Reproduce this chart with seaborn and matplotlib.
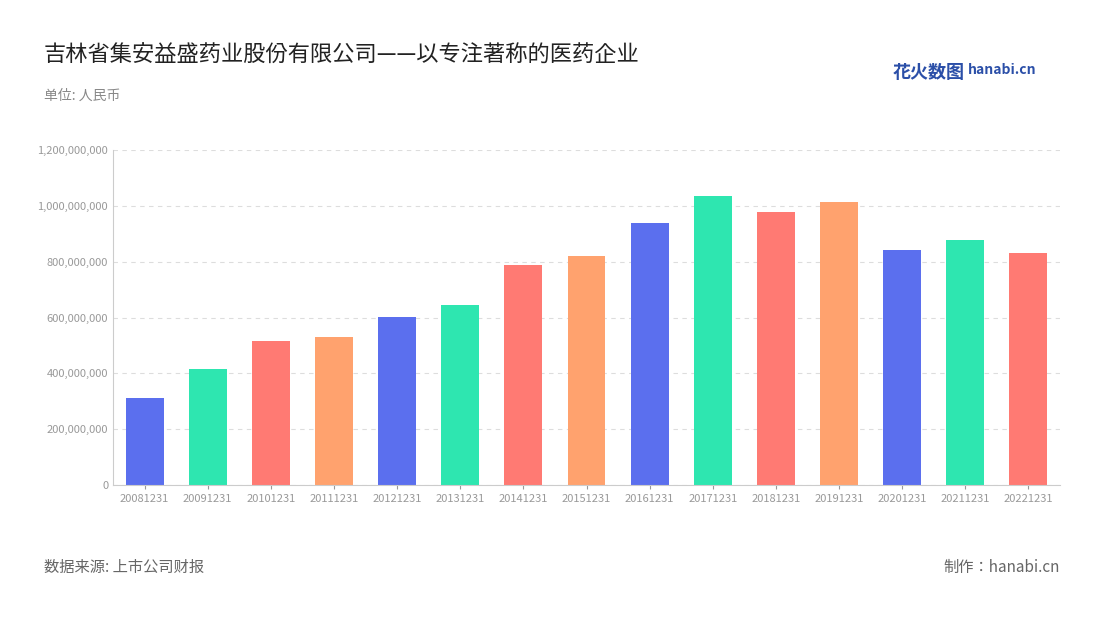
import matplotlib
matplotlib.use("Agg")
import matplotlib.pyplot as plt
import seaborn as sns
import pandas as pd
from matplotlib.ticker import FuncFormatter
from matplotlib import font_manager

years = ["20081231","20091231","20101231","20111231","20121231","20131231","20141231","20151231",
         "20161231","20171231","20181231","20191231","20201231","20211231","20221231"]
values = [311e6,415e6,516e6,530e6,602e6,645e6,788e6,820e6,938e6,1035e6,978e6,1014e6,842e6,877e6,831e6]
palette_cycle = ["#5B6FEE","#2EE6B0","#FF7A73","#FFA26E"]

names = {f.name for f in font_manager.fontManager.ttflist}
cjk = [n for n in ["Noto Sans CJK SC","Noto Sans CJK JP","Noto Sans CJK TC","Noto Sans CJK KR","Noto Sans SC"] if n in names]
plt.rcParams["font.family"] = "sans-serif"
plt.rcParams["font.sans-serif"] = cjk + ["DejaVu Sans"]

df = pd.DataFrame({"year": years, "value": values})
colors = [palette_cycle[i % 4] for i in range(len(years))]

fig = plt.figure(figsize=(11, 6.2), dpi=100)
ax = fig.add_axes([113/1100, 1-485/620, (1060-113)/1100, (485-150)/620])
sns.barplot(data=df, x="year", y="value", hue="year", palette=colors, legend=False, ax=ax, width=0.6, saturation=1)
ax.set_ylim(0, 1.2e9)
ax.set_yticks([i*2e8 for i in range(7)])
ax.yaxis.set_major_formatter(FuncFormatter(lambda v, p: f"{int(v):,}"))
ax.set_xlabel(""); ax.set_ylabel("")
ax.grid(axis="y", linestyle=(0,(4,4)), color="#dddddd", linewidth=0.8)
ax.set_axisbelow(True)
for s in ["top","right"]:
    ax.spines[s].set_visible(False)
ax.spines["left"].set_color("#cccccc")
ax.spines["bottom"].set_color("#cccccc")
ax.tick_params(axis="both", colors="#999999", labelsize=8, length=3)
ax.tick_params(axis="y", length=0)
ax.set_xlim(-0.5, len(years)-0.5)

fig.text(44/1100, 1-55/620, "吉林省集安益盛药业股份有限公司——以专注著称的医药企业", fontsize=16, color="#222222", va="center")
fig.text(44/1100, 1-96/620, "单位: 人民币", fontsize=10, color="#888888", va="center")
fig.text(44/1100, 1-567/620, "数据来源: 上市公司财报", fontsize=11, color="#666666", va="center")
fig.text(1060/1100, 1-567/620, "制作：hanabi.cn", fontsize=11, color="#666666", va="center", ha="right")
fig.text(893/1100, 1-72/620, "花火数图", fontsize=13, color="#2b4fa8", va="center", fontweight="bold")
fig.text(968/1100, 1-70/620, "hanabi.cn", fontsize=10, color="#2b4fa8", va="center", fontweight="bold")
fig.savefig("out.png", dpi=100)
